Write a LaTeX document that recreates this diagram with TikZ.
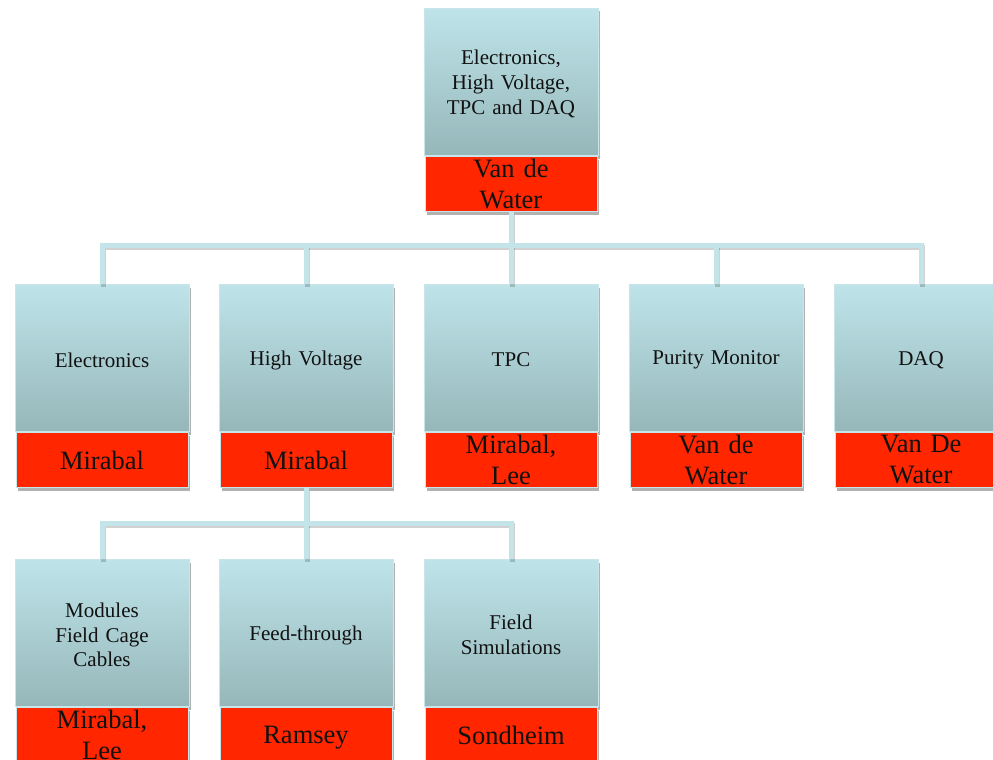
\documentclass[tikz,border=0pt]{standalone}
\usepackage{fontspec}
\setmainfont{Liberation Serif}
\usetikzlibrary{shadows}
\definecolor{bluetop}{RGB}{190,228,233}
\definecolor{bluebot}{RGB}{150,183,186}
\definecolor{redfill}{RGB}{255,38,0}
\definecolor{edgecol}{RGB}{200,230,234}
\definecolor{conncol}{RGB}{195,228,233}
\definecolor{txtcol}{RGB}{17,17,17}
\tikzset{
  bluebox/.style={anchor=north, minimum width=174pt, minimum height=147pt, inner sep=0pt,
    top color=bluetop, bottom color=bluebot, draw=edgecol, line width=1pt,
    drop shadow={shadow xshift=1.5pt, shadow yshift=-3pt, opacity=0.3, fill=black}},
  bluetext/.style={text width=166pt, align=center, text=txtcol, inner sep=0pt,
    font=\fontsize{21}{24.7}\selectfont},
  redbox/.style={anchor=north, minimum width=172pt, minimum height=55pt, inner sep=0pt,
    fill=redfill, draw=edgecol, line width=1pt,
    drop shadow={shadow xshift=1.5pt, shadow yshift=-3.5pt, opacity=0.3, fill=black}},
  redtext/.style={text width=166pt, align=center, text=txtcol, inner sep=0pt,
    font=\fontsize{26.5}{31}\selectfont},
  conn/.style={draw=conncol, line width=5pt,
    preaction={draw=black, opacity=0.18, line width=5pt, transform canvas={xshift=1pt, yshift=-2.5pt}}}
}
\newcommand\nodepth[1]{\raisebox{0pt}[\height][0pt]{#1}}
\newcommand\orgunit[5]{%
  \node[bluebox] (#1) at (#2,#3) {};
  \node[bluetext] (#1b) at ([yshift=-2pt]#1.center) {#4};
  \node[redbox] (#1r) at (#1.south) {};
  \node[redtext] (#1t) at (#1r.center) {#5};
}
\begin{document}
\begin{tikzpicture}[x=1pt, y=-1pt]
\useasboundingbox (0,0) rectangle (993,760);
\clip (0,0) rectangle (993,760);
\coordinate (bar1) at (511,245);
\coordinate (bar2) at (306,523);
% top
\orgunit{top}{511}{8}{Electronics,\\High Voltage,\\TPC and DAQ}{Van de\\Water}
% row 2
\orgunit{elec}{102}{284}{Electronics}{Mirabal}
\orgunit{hv}{306}{284}{High Voltage}{Mirabal}
\orgunit{tpc}{511}{284}{TPC}{Mirabal,\\Lee}
\orgunit{pm}{716}{284}{Purity Monitor}{Van de\\Water}
\orgunit{daq}{921}{284}{DAQ}{Van De\\Water}
% row 3
\orgunit{mod}{102}{559}{Modules\\Field Cage\\Cables}{Mirabal,\\Lee}
\orgunit{ft}{306}{559}{Feed-through}{\nodepth{Ramsey}}
\orgunit{fs}{511}{559}{Field\\Simulations}{Sondheim}
% connectors
\draw[conn] (topr.south) -- (topr.south |- bar1);
\draw[conn] (elec.north) |- (bar1) -| (daq.north);
\draw[conn] (hv.north) -- (hv.north |- bar1);
\draw[conn] (tpc.north) -- (tpc.north |- bar1);
\draw[conn] (pm.north) -- (pm.north |- bar1);
\draw[conn] (hvr.south) -- (bar2);
\draw[conn] (mod.north) |- (bar2) -| (fs.north);
\draw[conn] (ft.north) -- (bar2);
\end{tikzpicture}
\end{document}
